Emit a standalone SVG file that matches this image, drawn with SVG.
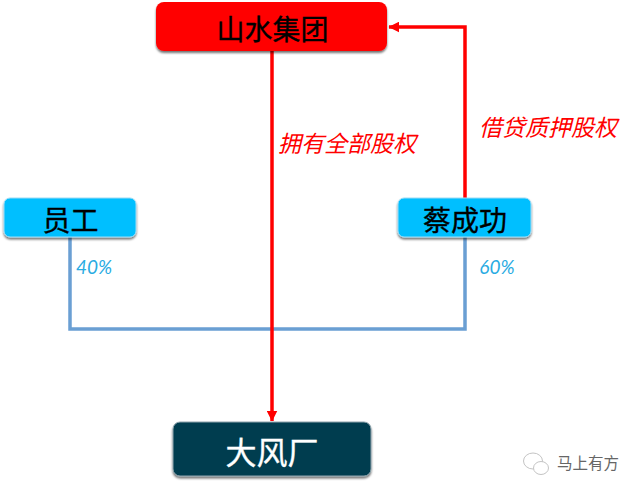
<svg xmlns="http://www.w3.org/2000/svg" width="640" height="493" viewBox="0 0 640 493">
<style>
text{font-family:"Noto Sans CJK SC","Liberation Sans",sans-serif;text-anchor:middle}
.n{font-size:28px;fill:#000;stroke:#000;stroke-width:.35}
.w{fill:#fff;font-size:31px;stroke:#fff;stroke-width:.35}
.r{font-size:23px;font-style:italic;fill:#f00}
.p{font-size:19px;font-style:italic;fill:#29abe2;font-family:"Lato","Liberation Sans",sans-serif}
.red{fill:none;stroke:#f00;stroke-width:3.5}
.blue{fill:none;stroke:#6a9fd3;stroke-width:3.5}
.box{filter:url(#s)}
</style>
<defs>
<filter id="s" x="-10%" y="-20%" width="120%" height="145%"><feDropShadow dx="0" dy="2" stdDeviation="1.2" flood-color="#000" flood-opacity=".55"/></filter>
<marker id="a" viewBox="0 0 10 10" refX="9.5" refY="5" markerWidth="11" markerHeight="11" markerUnits="userSpaceOnUse" orient="auto"><path d="M0 0L10 5L0 10Z" fill="#f00"/></marker>
</defs>
<rect width="640" height="493" fill="#fff"/>
<g id="connectors">
<path class="blue" d="M70 237V329H465V237"/>
<path class="red" d="M465 198V27H389" marker-end="url(#a)"/>
<path class="red" d="M272 51V421" marker-end="url(#a)"/>
</g>
<g id="node-shanshui"><rect class="box" x="156" y="2" width="231" height="49" rx="8" fill="#f00"/><text class="n" x="272.500" y="40">山水集团</text></g>
<g id="node-yuangong"><rect class="box" x="4" y="198" width="132" height="39" rx="6" fill="#00bfff" stroke="#9fdcf5"/><text class="n" x="70.500" y="231">员工</text></g>
<g id="node-caichenggong"><rect class="box" x="398" y="198" width="133" height="39" rx="6" fill="#00bfff" stroke="#9fdcf5"/><text class="n" x="465" y="231">蔡成功</text></g>
<g id="node-dafengchang"><rect class="box" x="173" y="422" width="198" height="54" rx="7" fill="#033c50" stroke="#8fa5ad"/><text class="w" x="272" y="464">大风厂</text></g>
<g id="labels">
<text class="r" x="347" y="152">拥有全部股权</text>
<text class="r" x="548" y="136">借贷质押股权</text>
<text class="p" x="94" y="274">40%</text>
<text class="p" x="497" y="274">60%</text>
</g>
<g id="watermark" fill="none" stroke="#c4c4c4" stroke-width="1">
<ellipse cx="533" cy="461" rx="9.500" ry="8"/>
<ellipse cx="541" cy="468" rx="7.500" ry="6.500" fill="#fff"/>
<text x="588" y="469" style="font-size:15.500px;fill:#666;stroke:none">马上有方</text>
</g>
</svg>
